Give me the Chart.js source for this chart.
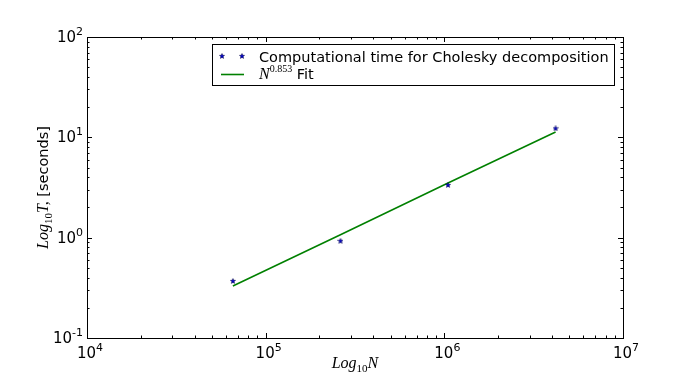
<!DOCTYPE html>
<html>
<head>
<meta charset="utf-8">
<script src="https://cdn.jsdelivr.net/npm/chart.js@4.4.1/dist/chart.umd.min.js"></script>
<style>
  html, body { margin: 0; padding: 0; background: #fff; }
  #wrap { width: 692px; height: 374px; }
</style>
</head>
<body>
<div id="wrap"><canvas id="myChart" width="692" height="374"></canvas></div>
<script>
// matrix sizes N and measured times T (seconds)
const sizes = [65536, 262144, 1048576, 4194304];
const times = [0.37, 0.93, 3.35, 12.3];
// fitted line N^0.853
const fitTimes = [0.33, 1.07, 3.5, 11.3];
const xTicks = [1e4, 1e5, 1e6, 1e7];
const yTicks = [0.1, 1, 10, 100];

const sans = "DejaVu Sans";
const serif = "Liberation Serif";

// small filled star like matplotlib's '*' marker
function makeStar() {
  const c = document.createElement("canvas");
  c.width = 6;
  c.height = 6;
  const g = c.getContext("2d");
  g.beginPath();
  for (let i = 0; i < 10; i++) {
    const r = i % 2 === 0 ? 2.7 : 1.2;
    const a = -Math.PI / 2 + (i * Math.PI) / 5;
    const px = 3 + r * Math.cos(a);
    const py = 3.2 + r * Math.sin(a);
    if (i === 0) g.moveTo(px, py);
    else g.lineTo(px, py);
  }
  g.closePath();
  g.fillStyle = "#0000cc";
  g.fill();
  g.strokeStyle = "#000040";
  g.lineWidth = 0.5;
  g.stroke();
  return c;
}
const star = makeStar();

// draw a list of text runs one after another
function drawRuns(ctx, runs, x, y, align) {
  let w = 0;
  runs.forEach((r) => {
    ctx.font = r.font;
    r.w = ctx.measureText(r.text).width;
    w += r.w;
  });
  let cx = align === "right" ? x - w : align === "center" ? x - w / 2 : x;
  ctx.textAlign = "left";
  ctx.textBaseline = "alphabetic";
  runs.forEach((r) => {
    ctx.font = r.font;
    ctx.fillText(r.text, cx, y + (r.dy || 0));
    cx += r.w;
  });
}

function powRuns(exp) {
  return [
    { text: "10", font: `15px ${sans}` },
    { text: String(exp), font: `11px ${sans}`, dy: -7 },
  ];
}

const decor = {
  id: "decor",
  afterDraw(chart) {
    const ctx = chart.ctx;
    const a = chart.chartArea;
    const xs = chart.scales.x;
    const ys = chart.scales.y;
    ctx.save();
    ctx.fillStyle = "#000";
    ctx.strokeStyle = "#000";
    ctx.lineWidth = 1;

    // frame
    ctx.strokeRect(Math.round(a.left) + 0.5, Math.round(a.top) + 0.5,
      Math.round(a.right - a.left), Math.round(a.bottom - a.top));

    // inward tick marks on all sides
    ctx.beginPath();
    for (let d = 4; d < 7; d++) {
      for (let m = 1; m < 10; m++) {
        const v = m * Math.pow(10, d);
        const px = Math.round(xs.getPixelForValue(v)) + 0.5;
        const len = m === 1 ? 5 : 2.5;
        ctx.moveTo(px, a.bottom);
        ctx.lineTo(px, a.bottom - len);
        ctx.moveTo(px, a.top);
        ctx.lineTo(px, a.top + len);
      }
    }
    for (let d = -1; d < 2; d++) {
      for (let m = 1; m < 10; m++) {
        const v = m * Math.pow(10, d);
        const py = Math.round(ys.getPixelForValue(v)) + 0.5;
        const len = m === 1 ? 5 : 2.5;
        ctx.moveTo(a.left, py);
        ctx.lineTo(a.left + len, py);
        ctx.moveTo(a.right, py);
        ctx.lineTo(a.right - len, py);
      }
    }
    ctx.stroke();

    // tick labels
    xTicks.forEach((v) => {
      const px = xs.getPixelForValue(v);
      drawRuns(ctx, powRuns(Math.round(Math.log10(v))), px + 3, a.bottom + 20, "center");
    });
    yTicks.forEach((v) => {
      const py = ys.getPixelForValue(v);
      drawRuns(ctx, powRuns(Math.round(Math.log10(v))), a.left - 4, py + 5, "right");
    });

    // axis titles
    drawRuns(ctx, [
      { text: "Log", font: `italic 16px ${serif}` },
      { text: "10", font: `11px ${serif}`, dy: 4 },
      { text: "N", font: `italic 16px ${serif}` },
    ], (a.left + a.right) / 2, 368, "center");

    ctx.save();
    ctx.translate(48, (a.top + a.bottom) / 2);
    ctx.rotate(-Math.PI / 2);
    drawRuns(ctx, [
      { text: "Log", font: `italic 16px ${serif}` },
      { text: "10", font: `11px ${serif}`, dy: 4 },
      { text: "T,", font: `italic 16px ${serif}` },
      { text: " [seconds]", font: `14.5px ${sans}` },
    ], 0, 0, "center");
    ctx.restore();

    // legend
    const lx = 212, ly = 44, lw = 402, lh = 41;
    ctx.fillStyle = "#fff";
    ctx.fillRect(lx, ly, lw, lh);
    ctx.strokeStyle = "#000";
    ctx.strokeRect(lx + 0.5, ly + 0.5, lw, lh);
    ctx.drawImage(star, 219, 53);
    ctx.drawImage(star, 239, 53);
    ctx.fillStyle = "#000";
    drawRuns(ctx, [{ text: "Computational time for Cholesky decomposition", font: `14.5px ${sans}` }],
      259, 62, "left");
    ctx.strokeStyle = "#008000";
    ctx.lineWidth = 1.6;
    ctx.beginPath();
    ctx.moveTo(221, 74.5);
    ctx.lineTo(244, 74.5);
    ctx.stroke();
    drawRuns(ctx, [
      { text: "N", font: `italic 16px ${serif}` },
      { text: "0.853", font: `10px ${serif}`, dy: -7 },
      { text: " Fit", font: `14.5px ${sans}` },
    ], 259, 79, "left");
    ctx.restore();
  },
};

function hideAxis(scale, horizontal) {
  if (horizontal) scale.height = 0;
  else scale.width = 0;
}

const ctx = document.getElementById("myChart").getContext("2d");
const myChart = new Chart(ctx, {
  type: "scatter",
  data: {
    datasets: [
      {
        label: "Computational time for Cholesky decomposition",
        data: sizes.map((n, i) => ({ x: n, y: times[i] })),
        pointStyle: star,
        showLine: false,
      },
      {
        label: "N^0.853 Fit",
        data: sizes.map((n, i) => ({ x: n, y: fitTimes[i] })),
        showLine: true,
        borderColor: "#008000",
        borderWidth: 1.6,
        pointRadius: 0,
        fill: false,
      },
    ],
  },
  options: {
    responsive: false,
    animation: false,
    layout: { padding: { left: 87, right: 69, top: 37, bottom: 36 } },
    plugins: { legend: { display: false }, tooltip: { enabled: false } },
    scales: {
      x: {
        type: "logarithmic",
        min: 1e4,
        max: 1e7,
        grid: { display: false },
        border: { display: false },
        ticks: { display: false },
        afterFit: (s) => hideAxis(s, true),
      },
      y: {
        type: "logarithmic",
        min: 0.1,
        max: 100,
        grid: { display: false },
        border: { display: false },
        ticks: { display: false },
        afterFit: (s) => hideAxis(s, false),
      },
    },
  },
  plugins: [decor],
});
</script>
</body>
</html>
